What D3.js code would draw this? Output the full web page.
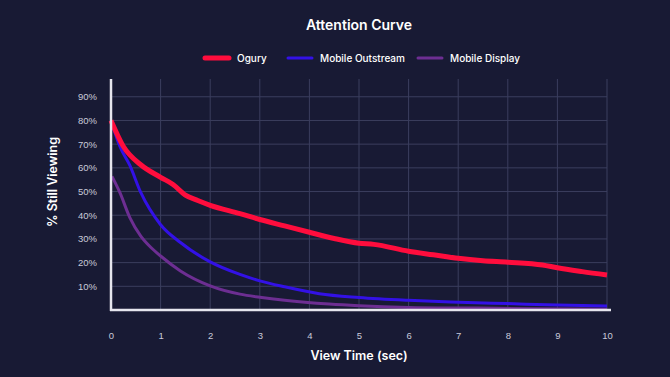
<!DOCTYPE html>
<html>
<head>
<meta charset="utf-8">
<script src="https://cdn.jsdelivr.net/npm/d3@7"></script>
<style>
  body { margin: 0; background: #181a34; }
  svg { display: block; font-family: "Inter", "Lato", sans-serif; }
</style>
</head>
<body>
<div id="chart-area"></div>
<script>
// Attention curve data
var seriesNames = ["Ogury", "Mobile Outstream", "Mobile Display"];
var seriesColors = ["#ff0d3d", "#3311e6", "#6d2e92"];
var seriesWidths = [5, 3, 3];

var oguryTime = [0, 0.25, 0.6, 1, 1.25, 1.5, 1.75, 2, 2.6, 3, 3.5, 4, 4.5, 5, 5.3, 6, 6.5, 7, 7.5, 8, 8.7, 9, 9.5, 10];
var oguryVals = [80, 69, 61.3, 56, 53, 48.5, 46.2, 44.2, 40.7, 38.2, 35.5, 32.8, 30.2, 28.2, 27.7, 24.8, 23.3, 21.8, 20.8, 20.2, 19, 17.8, 16.2, 14.8];

var outTime = [0, 0.18, 0.38, 0.6, 1, 1.4, 2, 2.6, 3, 3.5, 4.2, 5, 6, 6.85, 8, 9, 10];
var outVals = [80, 69, 61, 49.6, 36, 28.5, 20.3, 15, 12.3, 9.8, 6.9, 5.3, 4.1, 3.4, 2.7, 2.1, 1.7];

var dispTime = [0.02, 0.18, 0.38, 0.6, 0.8, 1, 1.4, 2, 2.6, 3, 3.5, 4.4, 5, 6, 7.4, 8.5, 10];
var dispVals = [56.4, 49.5, 39, 31.2, 26.5, 22.8, 16.5, 10.2, 6.7, 5.4, 4.1, 2.5, 1.8, 1.1, 0.8, 0.5, 0.3];

var xTicks = [0, 1, 2, 3, 4, 5, 6, 7, 8, 9, 10];
var yTicks = [10, 20, 30, 40, 50, 60, 70, 80, 90];

var allSeries = [
  d3.zip(oguryTime, oguryVals),
  d3.zip(outTime, outVals),
  d3.zip(dispTime, dispVals)
];

var margin = { left: 111, right: 63, top: 79, bottom: 66 };
var width = 670 - margin.left - margin.right,
    height = 377 - margin.top - margin.bottom;

var svg = d3.select("#chart-area")
  .append("svg")
    .attr("width", 670)
    .attr("height", 377);

svg.append("rect")
  .attr("width", 670).attr("height", 377)
  .attr("fill", "#181a34");

var g = svg.append("g")
  .attr("transform", "translate(" + margin.left + "," + margin.top + ")");

var x = d3.scaleLinear().domain([0, 10]).range([0, width]);
var y = d3.scaleLinear().domain([0, 97.5]).range([height - 1, 0]);

// grid
g.append("g")
  .selectAll("line.hgrid")
  .data(yTicks)
  .enter().append("line")
    .attr("x1", 0).attr("x2", x(10))
    .attr("y1", d => y(d)).attr("y2", d => y(d))
    .attr("stroke", "#3b3e5e").attr("stroke-width", 1);

g.append("g")
  .selectAll("line.vgrid")
  .data(xTicks.slice(1))
  .enter().append("line")
    .attr("x1", d => x(d)).attr("x2", d => x(d))
    .attr("y1", y(97.5)).attr("y2", y(0))
    .attr("stroke", "#3b3e5e").attr("stroke-width", 1);

// axes
var xAxis = d3.axisBottom(x).tickValues(xTicks).tickSize(0).tickPadding(22);
var xAxisGroup = g.append("g")
  .attr("transform", "translate(0," + y(0) + ")")
  .call(xAxis);
xAxisGroup.select(".domain").remove();
xAxisGroup.selectAll("text")
  .attr("fill", "#c9cada").attr("font-size", "9.5px");

var yAxis = d3.axisLeft(y).tickValues(yTicks).tickSize(0).tickPadding(14)
  .tickFormat(d => d + "%");
var yAxisGroup = g.append("g").call(yAxis);
yAxisGroup.select(".domain").remove();
yAxisGroup.selectAll("text")
  .attr("fill", "#c9cada").attr("font-size", "9.5px");

// lines
var line = d3.line()
  .x(d => x(d[0]))
  .y(d => y(d[1]))
  .curve(d3.curveMonotoneX);

// draw display first, ogury on top
[2, 1, 0].forEach(function(i) {
  g.append("path")
    .datum(allSeries[i])
    .attr("fill", "none")
    .attr("stroke", seriesColors[i])
    .attr("stroke-width", seriesWidths[i])
    .attr("stroke-linejoin", "round")
    .attr("d", line);
});

// axis lines (white)
g.append("line")
  .attr("x1", 0).attr("x2", 0)
  .attr("y1", 0).attr("y2", y(0) + 1)
  .attr("stroke", "#e6e6ee").attr("stroke-width", 2.5);
g.append("line")
  .attr("x1", -1).attr("x2", width + 4)
  .attr("y1", y(0)).attr("y2", y(0))
  .attr("stroke", "#e6e6ee").attr("stroke-width", 2.5);

// title
svg.append("text")
  .attr("x", margin.left + x(5)).attr("y", 30)
  .attr("text-anchor", "middle")
  .attr("fill", "#ffffff")
  .attr("font-size", "14px")
  .attr("font-weight", "600")
  .text("Attention Curve");

// legend
var legendX = [205, 288, 418];
var legend = svg.append("g");
seriesNames.forEach(function(name, i) {
  var row = legend.append("g")
    .attr("transform", "translate(" + legendX[i] + ",58)");
  row.append("line")
    .attr("x1", 0).attr("x2", 24)
    .attr("stroke", seriesColors[i])
    .attr("stroke-width", i === 0 ? 5 : 3)
    .attr("stroke-linecap", "round");
  row.append("text")
    .attr("x", 32).attr("y", 4)
    .attr("fill", "#ffffff")
    .attr("font-size", "10px")
    .attr("font-weight", "500")
    .text(name);
});

// axis labels
svg.append("text")
  .attr("x", margin.left + x(5)).attr("y", 360)
  .attr("text-anchor", "middle")
  .attr("fill", "#ffffff")
  .attr("font-size", "12.5px")
  .attr("font-weight", "600")
  .text("View Time (sec)");

svg.append("text")
  .attr("transform", "translate(57,182) rotate(-90)")
  .attr("text-anchor", "middle")
  .attr("fill", "#ffffff")
  .attr("font-size", "12.5px")
  .attr("font-weight", "600")
  .text("% Still Viewing");
</script>
</body>
</html>
